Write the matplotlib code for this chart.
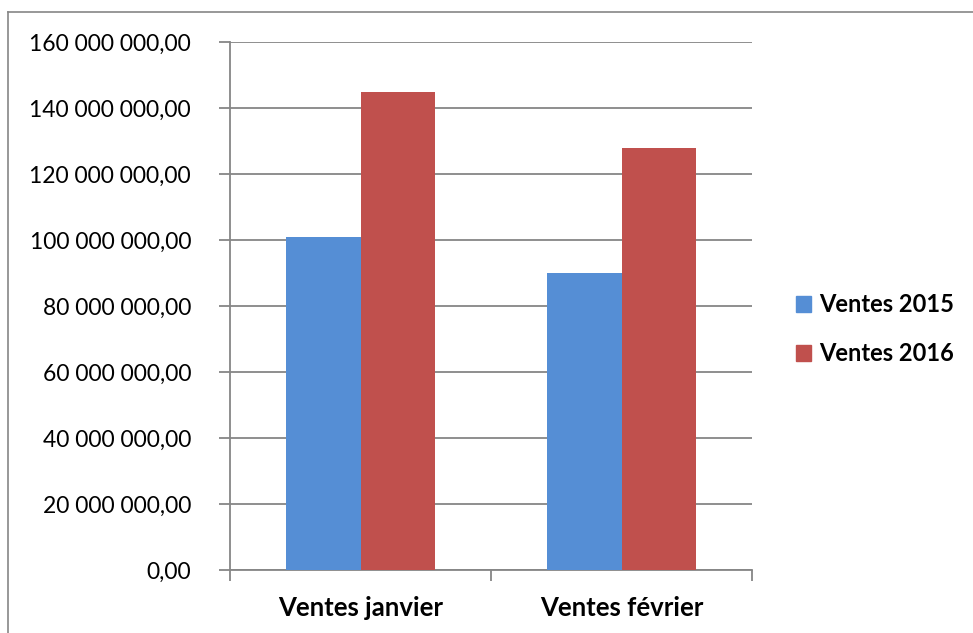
import matplotlib.pyplot as plt
import matplotlib.lines as mlines
import matplotlib.patches as mpatches
import numpy as np

categories = ['Ventes janvier', 'Ventes février']
series_names = ['Ventes 2015', 'Ventes 2016']
ventes_2015 = [101000000, 90000000]
ventes_2016 = [145000000, 128000000]
colors = ['#558ed5', '#c0504d']
y_ticks = [0, 20e6, 40e6, 60e6, 80e6, 100e6, 120e6, 140e6, 160e6]

plt.rcParams['font.family'] = ['Lato', 'DejaVu Sans']

def fmt(v):
    # French style: space thousands separator, comma decimals
    s = '{:,.2f}'.format(v)
    return s.replace(',', ' ').replace('.', ',')

fig = plt.figure(figsize=(9.73, 6.33), dpi=100)
ax = fig.add_axes([230/973, 1-570/633, 522/973, 528/633])

x = np.arange(len(categories)) + 0.5
w = 0.287
ax.bar(x - w/2, ventes_2015, w, color=colors[0], zorder=3)
ax.bar(x + w/2, ventes_2016, w, color=colors[1], zorder=3)

ax.set_xlim(0, len(categories))
ax.set_ylim(0, 160e6)
ax.set_yticks(y_ticks)
ax.set_yticklabels([fmt(v) for v in y_ticks], fontsize=16.5)
ax.yaxis.grid(True, color='#868686', linewidth=1.3, zorder=0)
ax.set_axisbelow(True)

# category labels sit between the boundary ticks
ax.set_xticks(np.arange(len(categories) + 1))
ax.set_xticklabels([])
ax.set_xticks(x, minor=True)
ax.set_xticklabels(categories, minor=True, fontsize=18.5, fontweight='bold')
ax.tick_params(axis='x', which='minor', length=0, pad=19)
ax.tick_params(axis='both', which='major', length=8, width=1.3, color='#868686')
ax.tick_params(axis='y', pad=20)

for side in ['top', 'right']:
    ax.spines[side].set_visible(False)
for side in ['left', 'bottom']:
    ax.spines[side].set_color('#868686')
    ax.spines[side].set_linewidth(1.3)

handles = [mpatches.Patch(color=c) for c in colors]
fig.legend(handles, series_names, loc='upper left', bbox_to_anchor=(775/973, 1-272/633),
           frameon=False, handlelength=0.62, handleheight=0.62, handletextpad=0.35,
           labelspacing=1.1, prop={'size': 17, 'weight': 'bold'})

# chart area border
fig.add_artist(mlines.Line2D([8/973, 8/973], [0, 1-12/633], color='#868686', linewidth=1.2))
fig.add_artist(mlines.Line2D([8/973, 1], [1-12/633, 1-12/633], color='#868686', linewidth=1.2))

fig.savefig('out.png', dpi=100)
